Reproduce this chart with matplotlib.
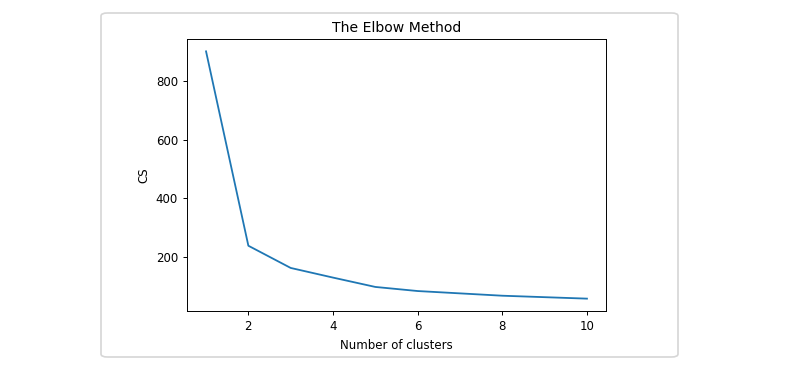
import matplotlib
matplotlib.use("Agg")
import matplotlib.pyplot as plt
from matplotlib.patches import FancyBboxPatch

# number of clusters vs within-cluster sum of squares
n_clusters = [1, 2, 3, 4, 5, 6, 7, 8, 9, 10]
cs_values = [903, 238, 162, 129, 97, 83, 75, 67, 62, 57]

fig = plt.figure(figsize=(8, 3.72), dpi=100)

# rounded card around the plot (notebook output cell)
W, H = 800, 372
card = FancyBboxPatch((101 / W, 1 - 357 / H), (678 - 101) / W, (357 - 13) / H,
                      boxstyle="round,pad=0,rounding_size=0.008",
                      transform=fig.transFigure, facecolor="white",
                      edgecolor="#d6d6d6", linewidth=1.2, zorder=-5)
fig.patches.append(card)

ax = fig.add_axes([187 / W, 1 - 311 / H, (606 - 187) / W, (311 - 39) / H])
ax.set_zorder(1)
ax.plot(n_clusters, cs_values, color="#1f77b4", linewidth=1.3)
ax.set_title("The Elbow Method", fontsize=10.1, pad=5)
ax.set_xlabel("Number of clusters", fontsize=8.45)
ax.set_ylabel("CS", fontsize=8.45)
ax.tick_params(labelsize=8.45, length=3, width=0.7)
for s in ax.spines.values():
    s.set_linewidth(0.7)

fig.savefig("out.png", dpi=100)
